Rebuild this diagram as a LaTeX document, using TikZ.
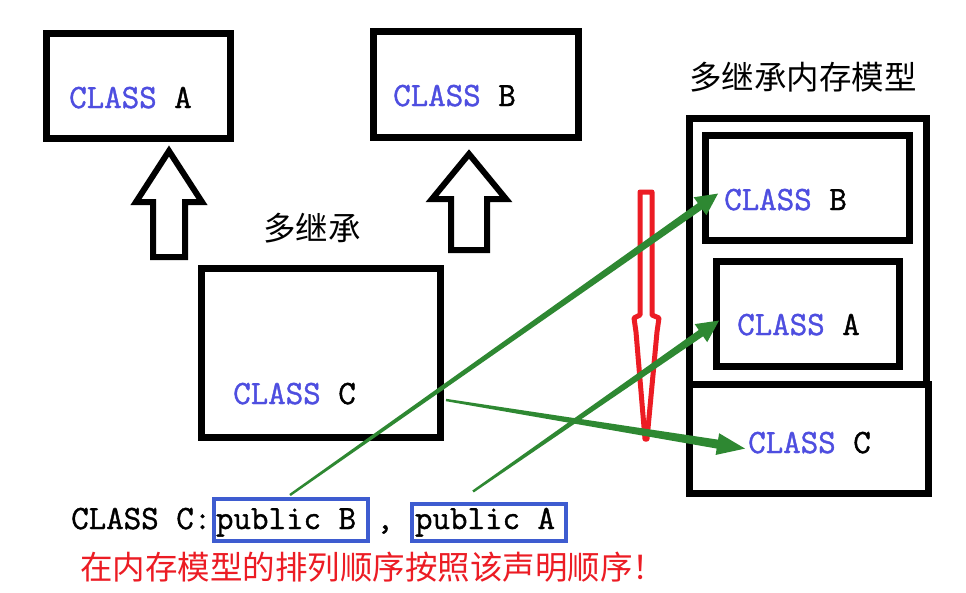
\documentclass[tikz,border=0pt]{standalone}
\usepackage{fontspec}
\newfontfamily\cjk{Noto Sans CJK SC}
\newfontfamily\clsfont{Latin Modern Mono}[FakeBold=1.2]
\usetikzlibrary{calc}
\definecolor{clsblue}{RGB}{78,78,224}
\definecolor{boxblue}{RGB}{62,92,208}
\definecolor{garrowc}{RGB}{46,136,50}
\definecolor{redc}{RGB}{236,28,36}
\tikzset{
  blackbox/.style={draw=black, line width=7pt, inner sep=0pt},
  lbl/.style={font=\fontsize{34}{40}\selectfont\clsfont, inner sep=0pt, anchor=base west},
  cjktext/.style={font=\fontsize{32.5}{38}\selectfont\cjk, inner sep=0pt},
  pubbox/.style={draw=boxblue, line width=4pt, inner sep=0pt, font=\fontsize{34}{40}\selectfont\clsfont, minimum width=154pt},
  hollow/.style={draw=black, fill=white, line width=6pt, line join=miter, miter limit=10},
  redarrow/.style={draw=redc, line width=5pt, line join=round},
  gfill/.style={fill=garrowc}
}
\newcommand{\garr}[6]{%
  \coordinate (hb) at ($(#2)!#5!(#1)$);
  \fill[gfill] ($(#1)!#3!90:(#2)$) -- ($(hb)!#4!-90:(#1)$) -- ($(hb)!#6!-90:(#1)$) -- (#2)
    -- ($(hb)!#6!90:(#1)$) -- ($(hb)!#4!90:(#1)$) -- ($(#1)!#3!-90:(#2)$) -- cycle;
}
\begin{document}
\begin{tikzpicture}[x=1pt,y=-1pt]
\useasboundingbox (0,0) rectangle (966,592);
\fill[white] (0,0) rectangle (966,592);

% top boxes
\node[blackbox, minimum width=184pt, minimum height=105pt] (boxA) at (138.5,86) {};
\node[blackbox, minimum width=205pt, minimum height=106pt] (boxB) at (476,84.5) {};
\node[blackbox, minimum width=239pt, minimum height=169pt] (boxC) at (321,353) {};

\node[lbl] (tA) at (69,108) {{\color{clsblue}CLASS} A};
\node[lbl] (tB) at (393,106) {{\color{clsblue}CLASS} B};
\node[lbl] (tC) at (233,404) {{\color{clsblue}CLASS} C};

% hollow inheritance arrows
\draw[hollow] (169,151) -- (136,202) -- (153,202) -- (153,257) -- (185,257) -- (185,202) -- (202,202) -- cycle;
\draw[hollow] (469,154) -- (432,199) -- (451,199) -- (451,250) -- (487,250) -- (487,199) -- (506,199) -- cycle;

\node[cjktext] (multi) at (312,228) {多继承};

% memory model
\node[cjktext] (memtitle) at (803,77) {多继承内存模型};
\node[blackbox, minimum width=237pt, minimum height=266pt] (memOuter) at (808,251.25) {};
\node[blackbox, minimum width=239pt, minimum height=109.5pt] (memC) at (809,438.75) {};
\node[blackbox, minimum width=204pt, minimum height=105pt] (memB) at (807.5,188) {};
\node[blackbox, minimum width=183pt, minimum height=105pt] (memA) at (808,314) {};

\node[lbl] (mB) at (724,210) {{\color{clsblue}CLASS} B};
\node[lbl] (mA) at (737,335) {{\color{clsblue}CLASS} A};
\node[lbl] (mC) at (748,453) {{\color{clsblue}CLASS} C};

% red order arrow
\draw[redarrow] (640,192) -- (652,192) -- (652,315) -- (659,318) -- (657,332) -- (647,439) -- (645,439)
  -- (636,332) -- (634,318) -- (640,315) -- cycle;

% declaration
\node[lbl] (decl) at (71,529) {CLASS C:};
\node[pubbox, minimum height=42pt, text height=24pt, text depth=6pt] (pubB) at (291,520) {\makebox[152pt][l]{\hspace{1pt}public B}};
\node[lbl] (comma) at (376,529) {,};
\node[pubbox, minimum height=37pt, text height=22pt, text depth=8pt] (pubA) at (489,522) {\makebox[152pt][l]{\hspace{2pt}public A}};

\node[cjktext, text=redc, anchor=west] (note) at (80,567) {在内存模型的排列顺序按照该声明顺序！};

% green arrows
\coordinate (g1s) at ($(pubB.north)+(-1,-2)$);
\coordinate (g1e) at ($(mB.west)+(-6,-6)$);
\coordinate (g2s) at ($(pubA.north)+(-16,-10)$);
\coordinate (g2e) at ($(mA.west)+(-18,-4)$);
\coordinate (g3s) at ($(boxC.east)+(2,47)$);
\coordinate (g3e) at ($(mC.west)+(-3,6)$);
\garr{g1s}{g1e}{1.2pt}{3.8pt}{22pt}{11pt}
\garr{g2s}{g2e}{1.2pt}{3.8pt}{22pt}{11pt}
\garr{g3s}{g3e}{1.2pt}{4.5pt}{28pt}{11pt}
\end{tikzpicture}
\end{document}
